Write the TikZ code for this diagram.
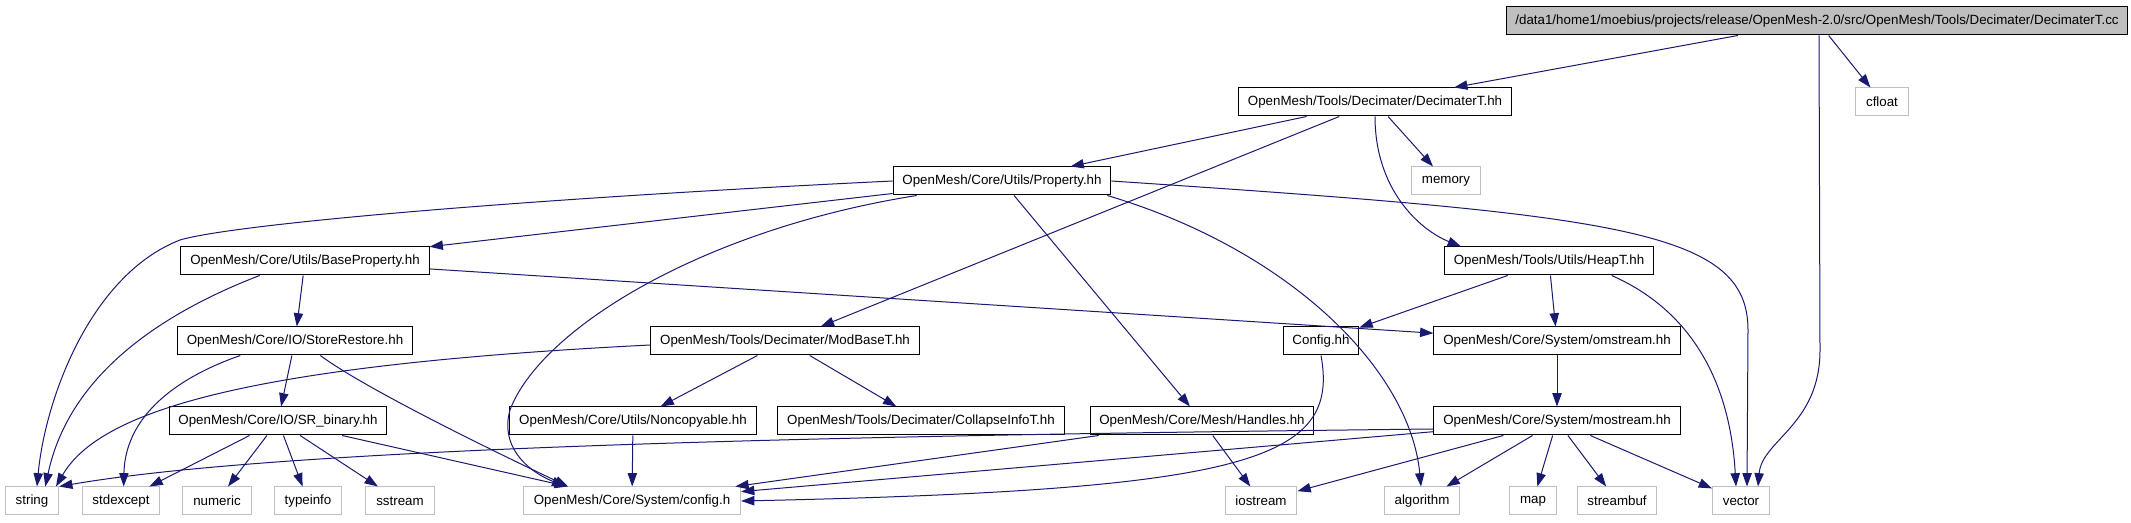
\documentclass[tikz,border=0pt]{standalone}
\usepackage{fontspec}
\setmainfont{Liberation Sans}
\usetikzlibrary{arrows.meta}
\definecolor{edgeblue}{HTML}{191970}
\definecolor{extgray}{HTML}{BFBFBF}

\begin{document}
\begin{tikzpicture}[x=0.75pt,y=-0.75pt,
		hdr/.style={draw=black,fill=white,line width=0.75pt,minimum height=21pt,inner xsep=7pt,inner ysep=0pt,font=\fontsize{10pt}{12pt}\selectfont},
		ext/.style={hdr,draw=extgray,inner xsep=7.75pt},
		dep/.style={draw=edgeblue,line width=0.75pt,-{Triangle[length=10pt,width=7pt]}}]
			\useasboundingbox (0,0) rectangle (2131,523);
			
			\node[hdr,fill=extgray] (root) at (1817,21) {/data1/home1/moebius/projects/release/OpenMesh-2.0/src/OpenMesh/Tools/Decimater/DecimaterT.cc};
			
			\node[hdr] (decT) at (1375,102) {OpenMesh/Tools/Decimater/DecimaterT.hh};
			\node[ext] (cfloat) at (1882,102) {cfloat};
			
			\node[hdr] (prop) at (1002,181) {OpenMesh/Core/Utils/Property.hh};
			\node[ext] (memory) at (1446,181) {memory};
			
			\node[hdr] (baseprop) at (305,261) {OpenMesh/Core/Utils/BaseProperty.hh};
			\node[hdr] (heapT) at (1549,261) {OpenMesh/Tools/Utils/HeapT.hh};
			
			\node[hdr] (storerest) at (295,341) {OpenMesh/Core/IO/StoreRestore.hh};
			\node[hdr] (modbase) at (785,341) {OpenMesh/Tools/Decimater/ModBaseT.hh};
			\node[hdr] (confighh) at (1321,341) {Config.hh};
			\node[hdr] (omstream) at (1557,341) {OpenMesh/Core/System/omstream.hh};
			
			\node[hdr] (srbinary) at (278,421) {OpenMesh/Core/IO/SR\_binary.hh};
			\node[hdr] (noncopy) at (633,421) {OpenMesh/Core/Utils/Noncopyable.hh};
			\node[hdr] (collapse) at (921,421) {OpenMesh/Tools/Decimater/CollapseInfoT.hh};
			\node[hdr] (handles) at (1202,421) {OpenMesh/Core/Mesh/Handles.hh};
			\node[hdr] (mostream) at (1557,421) {OpenMesh/Core/System/mostream.hh};
			
			\node[ext] (string) at (32,501) {string};
			\node[ext] (stdexcept) at (121,501) {stdexcept};
			\node[ext] (numeric) at (217,501) {numeric};
			\node[ext] (typeinfo) at (308,501) {typeinfo};
			\node[ext] (sstream) at (400,501) {sstream};
			\node[ext] (configh) at (632,501) {OpenMesh/Core/System/config.h};
			\node[ext] (iostream) at (1261,501) {iostream};
			\node[ext] (algorithm) at (1422,501) {algorithm};
			\node[ext] (map) at (1533,501) {map};
			\node[ext] (streambuf) at (1617,501) {streambuf};
			\node[ext] (vector) at (1741,501) {vector};
			
			\draw[dep] (root) -- (decT);
			\draw[dep] (root) -- (cfloat);
			\draw[dep] ([xshift=1.5pt]root.south) -- (1820,350) .. controls (1820,425) and (1762,440) .. ([xshift=12.75pt]vector.north);
			
			\draw[dep] (decT) -- (prop);
			\draw[dep] (decT) -- (memory);
			\draw[dep] (decT) -- (modbase);
			\draw[dep] (decT.south) .. controls (1375,190) and (1420,230) .. ([xshift=-66pt]heapT.north);
			
			\draw[dep] (prop) -- (baseprop);
			\draw[dep] (prop.west) .. controls (500,200) and (230,225) .. (180,240) .. controls (90,275) and (45,400) .. ([xshift=3.75pt]string.north);
			\draw[dep] ([xshift=-64pt]prop.south) .. controls (700,230) and (540,330) .. (510,410) .. controls (500,445) and (525,470) .. ([xshift=-50pt]configh.north);
			\draw[dep] (prop) -- (handles);
			\draw[dep] ([xshift=79pt]prop.south) .. controls (1290,250) and (1410,370) .. ([xshift=-0.75pt]algorithm.north);
			\draw[dep] (prop.east) .. controls (1620,215) and (1748,230) .. (1748,330) -- ([xshift=4.5pt]vector.north);
			
			\draw[dep] (baseprop) -- (storerest);
			\draw[dep] ([xshift=-34pt]baseprop.south) .. controls (170,310) and (70,370) .. ([xshift=10pt]string.north);
			\draw[dep] (baseprop) -- (omstream);
			
			\draw[dep] (heapT) -- (confighh);
			\draw[dep] (heapT) -- (omstream);
			\draw[dep] ([xshift=47pt]heapT.south) .. controls (1690,310) and (1730,380) .. ([xshift=-3.75pt]vector.north);
			
			\draw[dep] ([xshift=-41pt]storerest.south) .. controls (170,380) and (125,420) .. ([xshift=2pt]stdexcept.north);
			\draw[dep] (storerest) -- (srbinary);
			\draw[dep] ([xshift=19pt]storerest.south) .. controls (360,385) and (470,440) .. ([xshift=-48pt]configh.north);
			
			\draw[dep] ([yshift=-3pt]modbase.west) .. controls (250,365) and (100,410) .. ([xshift=18pt]string.north);
			\draw[dep] (modbase) -- (noncopy);
			\draw[dep] (modbase) -- (collapse);
			
			\draw[dep] (confighh.south) .. controls (1340,460) and (1250,490) .. (configh.east);
			\draw[dep] (omstream) -- (mostream);
			
			\draw[dep] (srbinary) -- (stdexcept);
			\draw[dep] (srbinary) -- (numeric);
			\draw[dep] (srbinary) -- (typeinfo);
			\draw[dep] (srbinary) -- (sstream);
			\draw[dep] (srbinary) -- (configh);
			
			\draw[dep] (noncopy) -- (configh);
			\draw[dep] (handles) -- (configh);
			\draw[dep] (handles) -- (iostream);
			
			\draw[dep] ([yshift=-6pt]mostream.west) .. controls (900,435) and (300,445) .. (string.north east);
			\draw[dep] (mostream) -- (configh);
			\draw[dep] (mostream) -- (iostream);
			\draw[dep] (mostream) -- (algorithm);
			\draw[dep] (mostream) -- (map);
			\draw[dep] (mostream) -- (streambuf);
			\draw[dep] (mostream) -- (vector);
		\end{tikzpicture}
\end{document}
